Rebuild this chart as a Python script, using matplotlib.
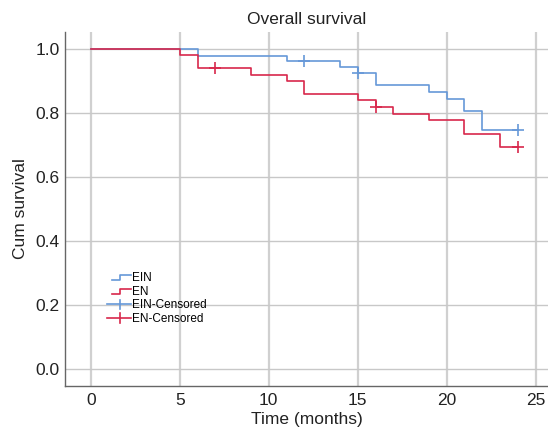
import matplotlib
matplotlib.use("Agg")
import matplotlib.pyplot as plt
from matplotlib.lines import Line2D
from matplotlib.legend_handler import HandlerBase

plt.rcParams['font.family'] = ['Liberation Sans', 'DejaVu Sans']

# Data
ein_times = [0, 6, 11, 14, 15, 16, 19, 20, 21, 22, 24]
ein_surv = [1.0, 0.98, 0.963, 0.944, 0.926, 0.887, 0.867, 0.846, 0.808, 0.748, 0.748]
ein_cens_t = [12, 15, 24]
ein_cens_s = [0.963, 0.926, 0.748]

en_times = [0, 5, 6, 9, 11, 12, 15, 16, 17, 19, 21, 23, 24]
en_surv = [1.0, 0.982, 0.941, 0.921, 0.901, 0.861, 0.841, 0.819, 0.799, 0.779, 0.736, 0.694, 0.694]
en_cens_t = [7, 16, 24]
en_cens_s = [0.941, 0.819, 0.694]

xticks = [0, 5, 10, 15, 20, 25]
yticks = [0.0, 0.2, 0.4, 0.6, 0.8, 1.0]

blue = '#6698d8'
red = '#d8284c'

fig = plt.figure(figsize=(5.48, 4.32), dpi=100)
ax = fig.add_axes([65/548, 1-386/432, 1-65/548, (386-32)/432])

ax.plot(ein_times, ein_surv, drawstyle='steps-post', color=blue, lw=1.2, zorder=3)
ax.plot(en_times, en_surv, drawstyle='steps-post', color=red, lw=1.2, zorder=3)
ax.plot(ein_cens_t, ein_cens_s, ls='none', marker='|', ms=8, mew=1.2, color=blue, zorder=4)
ax.plot(ein_cens_t, ein_cens_s, ls='none', marker='_', ms=8, mew=1.2, color=blue, zorder=4)
ax.plot(en_cens_t, en_cens_s, ls='none', marker='|', ms=8, mew=1.2, color=red, zorder=4)
ax.plot(en_cens_t, en_cens_s, ls='none', marker='_', ms=8, mew=1.2, color=red, zorder=4)

ax.set_xlim(-1.46, 25.7)
ax.set_ylim(-0.053, 1.054)
ax.set_xticks(xticks)
ax.set_yticks(yticks)
ax.set_xticklabels([str(t) for t in xticks])
ax.set_yticklabels([f'{t:.1f}' for t in yticks])
ax.tick_params(length=0, labelsize=12.5, colors='#222222')
ax.tick_params(axis='y', pad=4)
ax.tick_params(axis='x', pad=5)
ax.xaxis.grid(True, color='#d0d0d0', lw=1.6)
ax.yaxis.grid(True, color='#c8c8c8', lw=1.0)
ax.set_axisbelow(True)
for s in ['top', 'right']:
    ax.spines[s].set_visible(False)
for s in ['left', 'bottom']:
    ax.spines[s].set_color('#666666')
    ax.spines[s].set_linewidth(1.0)

ax.set_xlabel('Time (months)', fontsize=12.5, color='#222222', labelpad=3)
ax.set_ylabel('Cum survival', fontsize=12.5, color='#222222', labelpad=5)
ax.set_title('Overall survival', fontsize=12.5, color='#222222', pad=6)


class StepHandler(HandlerBase):
    def __init__(self, color):
        super().__init__()
        self.color = color

    def create_artists(self, legend, orig_handle, xdescent, ydescent, width, height, fontsize, trans):
        x0 = -xdescent
        y0 = -ydescent
        xs = [x0 + width * 0.2, x0 + width * 0.55, x0 + width * 0.55, x0 + width]
        yl = y0 + height * 0.15
        yh = y0 + height * 0.75
        ys = [yl, yl, yh, yh]
        ln = Line2D(xs, ys, color=self.color, lw=1.2, transform=trans)
        return [ln]


class CensHandler(HandlerBase):
    def __init__(self, color):
        super().__init__()
        self.color = color

    def create_artists(self, legend, orig_handle, xdescent, ydescent, width, height, fontsize, trans):
        x0 = -xdescent
        y0 = -ydescent
        ym = y0 + height * 0.45
        xm = x0 + width * 0.55
        l1 = Line2D([x0, x0 + width], [ym, ym], color=self.color, lw=1.2, transform=trans)
        l2 = Line2D([xm, xm], [ym - height * 0.6, ym + height * 0.6], color=self.color, lw=1.2, transform=trans)
        return [l1, l2]


h1 = Line2D([], [], color=blue)
h2 = Line2D([], [], color=red)
h3 = Line2D([], [], color=blue, marker='+')
h4 = Line2D([], [], color=red, marker='+')
leg = ax.legend([h1, h2, h3, h4], ['EIN', 'EN', 'EIN-Censored', 'EN-Censored'],
                handler_map={h1: StepHandler(blue), h2: StepHandler(red),
                             h3: CensHandler(blue), h4: CensHandler(red)},
                loc='upper left', bbox_to_anchor=((105 - 65) / 483, (386 - 270) / 354),
                frameon=False, fontsize=8.5, handlelength=2.0, handletextpad=0.1,
                labelspacing=0.12, borderpad=0.2, borderaxespad=0)

fig.savefig('out.png', dpi=100)
